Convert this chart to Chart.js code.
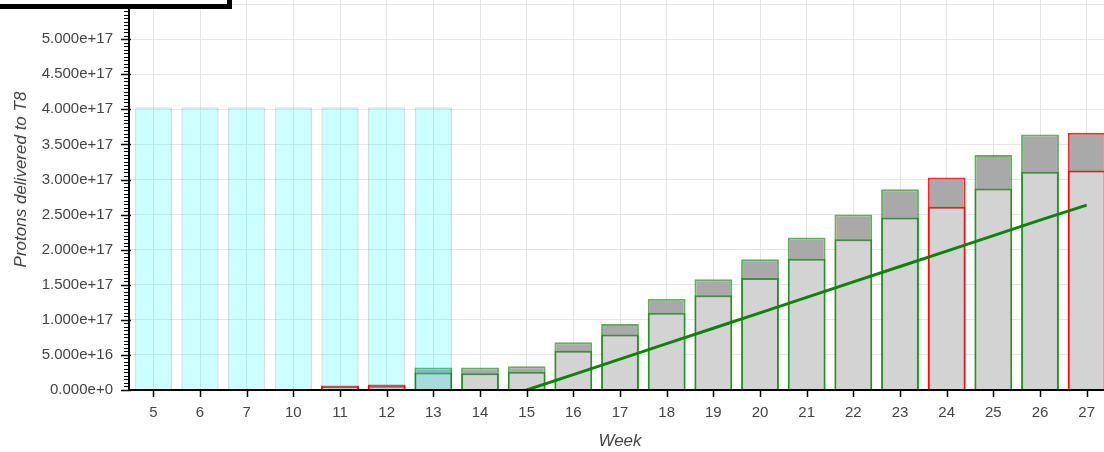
<!DOCTYPE html>
<html>
<head>
<meta charset="utf-8">
<script src="https://cdn.jsdelivr.net/npm/chart.js@4/dist/chart.umd.min.js"></script>
<style>
  html, body { margin: 0; padding: 0; background: #fff; overflow: hidden; width: 1104px; height: 452px; }
  #wrap { position: absolute; left: 0; top: -60px; width: 1130px; height: 512px; }
</style>
</head>
<body>
<div id="wrap"><canvas id="c" width="1130" height="512"></canvas></div>
<script>
// ---- data ----
const weeks = ['5','6','7','10','11','12','13','14','15','16','17','18','19','20','21','22','23','24','25','26','27'];
const scheduled = [4.03e17,4.03e17,4.03e17,4.03e17,4.03e17,4.03e17,4.03e17,null,null,null,null,null,null,null,null,null,null,null,null,null,null];
const delivered = [1e15,1e15,1e15,1e15,5e15,6e15,2.5e16,2.4e16,2.6e16,5.6e16,7.9e16,1.10e17,1.35e17,1.595e17,1.87e17,2.15e17,2.46e17,2.61e17,2.87e17,3.11e17,3.13e17];
const requested = [1e15,1e15,1e15,1e15,6.5e15,8e15,3.2e16,3.2e16,3.4e16,6.8e16,9.4e16,1.30e17,1.58e17,1.865e17,2.175e17,2.50e17,2.86e17,3.03e17,3.35e17,3.64e17,3.665e17];
const target = [null,null,null,null,null,null,null,null,0,2.2e16,4.4e16,6.6e16,8.8e16,1.1e17,1.32e17,1.54e17,1.76e17,1.98e17,2.2e17,2.42e17,2.635e17];
const yMin = 0, yMax = 6e17, yStep = 5e16, yMinorStep = 5e15;
const redWeeks = ['11','12','24','27'];

// ---- styles ----
const FONT = "'Liberation Sans', Arial, Helvetica, sans-serif";
const GREEN_EDGE = 'rgba(0,128,0,0.62)';
const RED_EDGE = 'rgba(255,0,0,0.85)';
const edge = (ctx) => redWeeks.includes(weeks[ctx.dataIndex]) ? RED_EDGE : GREEN_EDGE;

const axesPlugin = {
  id: 'bokehAxes',
  afterDraw(chart) {
    const ctx = chart.ctx;
    const a = chart.chartArea;
    const xs = chart.scales.x, ys = chart.scales.y;
    ctx.save();
    ctx.strokeStyle = '#000';
    // minor y ticks
    ctx.lineWidth = 1;
    for (let v = yMin; v <= yMax + 1; v += yMinorStep) {
      const y = Math.round(ys.getPixelForValue(v)) + 0.5;
      ctx.beginPath(); ctx.moveTo(a.left - 6, y); ctx.lineTo(a.left, y); ctx.stroke();
    }
    // major y ticks
    ctx.lineWidth = 1.5;
    for (let v = yMin; v <= yMax + 1; v += yStep) {
      const y = Math.round(ys.getPixelForValue(v)) + 0.5;
      ctx.beginPath(); ctx.moveTo(a.left - 9, y); ctx.lineTo(a.left + 1, y); ctx.stroke();
    }
    // x ticks
    ctx.lineWidth = 1.5;
    weeks.forEach((w, i) => {
      const x = Math.round(xs.getPixelForValue(i)) + 0.5;
      ctx.beginPath(); ctx.moveTo(x, a.bottom); ctx.lineTo(x, a.bottom + 7); ctx.stroke();
    });
    // axis lines
    ctx.lineWidth = 2;
    ctx.beginPath(); ctx.moveTo(a.left - 1, a.top - 5); ctx.lineTo(a.left - 1, a.bottom + 1); ctx.stroke();
    ctx.beginPath(); ctx.moveTo(a.left - 2, a.bottom); ctx.lineTo(a.right + 5, a.bottom); ctx.stroke();
    // legend box (mostly outside view)
    ctx.fillStyle = '#fff';
    ctx.fillRect(-10, 0, 239, 66);
    ctx.lineWidth = 5;
    ctx.strokeRect(-10, 0, 239.5, 66.5);
    ctx.restore();
  }
};

new Chart(document.getElementById('c'), {
  type: 'bar',
  data: {
    labels: weeks,
    datasets: [
      {
        type: 'line', label: 'Target', data: target, order: 0,
        borderColor: '#0a850a', borderWidth: 3, pointRadius: 0, fill: false, tension: 0
      },
      {
        label: 'Scheduled', data: scheduled, order: 1, grouped: false,
        backgroundColor: 'rgba(0,255,255,0.2)', borderColor: 'rgba(0,60,60,0.16)', borderWidth: 1.5,
        borderSkipped: 'start', barPercentage: 0.8, categoryPercentage: 1
      },
      {
        label: 'Delivered', data: delivered, order: 2, grouped: false,
        backgroundColor: '#d3d3d3', borderColor: edge, borderWidth: 2,
        borderSkipped: 'start', barPercentage: 0.81, categoryPercentage: 1
      },
      {
        label: 'Requested', data: requested, order: 3, grouped: false,
        backgroundColor: '#a9a9a9', borderColor: edge, borderWidth: 2,
        borderSkipped: 'start', barPercentage: 0.81, categoryPercentage: 1
      }
    ]
  },
  options: {
    responsive: false,
    animation: false,
    devicePixelRatio: 1,
    layout: { padding: { top: 29, right: 20, left: 0, bottom: 0 } },
    plugins: { legend: { display: false }, tooltip: { enabled: false } },
    scales: {
      x: {
        offset: true,
        grid: { color: '#e5e5e5', lineWidth: 1, offset: false, drawTicks: false },
        border: { display: false },
        ticks: { color: '#444', font: { family: FONT, size: 15 }, padding: 14, maxRotation: 0, autoSkip: false },
        title: { display: true, text: 'Week', color: '#444', font: { family: FONT, size: 17, style: 'italic' }, padding: { top: 0, bottom: 1 } },
        afterFit(s) { s.height = 62; }
      },
      y: {
        min: yMin, max: yMax, stacked: false,
        grid: { color: '#e5e5e5', lineWidth: 1, drawTicks: false },
        border: { display: false },
        ticks: {
          stepSize: yStep, color: '#444', font: { family: FONT, size: 15 }, padding: 17,
          callback: (v) => Number(v).toExponential(3)
        },
        title: { display: true, text: 'Protons delivered to T8', color: '#444', font: { family: FONT, size: 17, style: 'italic' }, padding: { top: 11, bottom: 0 } },
        afterFit(s) { s.width = 130; }
      }
    }
  },
  plugins: [axesPlugin]
});
</script>
</body>
</html>
